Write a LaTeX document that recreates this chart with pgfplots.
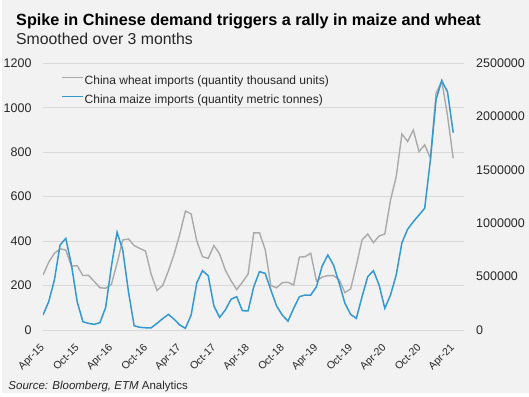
\documentclass[border=0pt]{standalone}
\usepackage{pgfplots}
\usepackage{pgfplotstable}
\pgfplotsset{compat=1.18}
\usepackage{fontspec}
\setmainfont{Liberation Sans}
\definecolor{bg}{RGB}{242,242,242}
\definecolor{gridc}{RGB}{217,217,217}
\definecolor{wheatc}{RGB}{170,170,170}
\definecolor{maizec}{RGB}{52,152,209}
\definecolor{txt}{RGB}{38,38,38}

\pgfplotstableread{
m wheat maize
0 247 140000
1 305 265000
2 345 469000
3 365 797000
4 360 859000
5 287 609000
6 290 265000
7 245 78000
8 246 62000
9 218 53000
10 190 69000
11 188 212000
12 205 594000
13 300 916000
14 405 750000
15 410 359000
16 380 40000
17 367 25000
18 355 21000
19 250 21000
20 178 62000
21 200 106000
22 265 146000
23 340 102000
24 430 47000
25 535 16000
26 522 140000
27 400 443000
28 330 556000
29 322 509000
30 380 225000
31 342 119000
32 270 187000
33 222 288000
34 182 312000
35 215 181000
36 252 179000
37 437 406000
38 437 547000
39 362 531000
40 200 375000
41 190 225000
42 213 140000
43 215 83000
44 202 203000
45 328 312000
46 330 328000
47 345 328000
48 220 406000
49 238 600000
50 245 703000
51 245 609000
52 225 437000
53 168 250000
54 185 146000
55 290 109000
56 405 312000
57 432 500000
58 393 556000
59 423 422000
60 432 203000
61 585 328000
62 690 516000
63 882 818000
64 848 944000
65 900 1015000
66 803 1078000
67 833 1141000
68 773 1594000
69 1065 2163000
70 1122 2337000
71 965 2233000
72 773 1850000
}\data

\begin{document}
\begin{tikzpicture}[x=1bp,y=1bp]
\useasboundingbox (0,0) rectangle (529,396);
\fill[white] (0,0) rectangle (529,396);
\fill[bg] (2,3) rectangle (529,396);
\node[anchor=base west, inner sep=0pt, text=black, font=\fontsize{16.2bp}{18bp}\selectfont\bfseries] at (16,371) {Spike in Chinese demand triggers a rally in maize and wheat};
\node[anchor=base west, inner sep=0pt, text=txt, font=\fontsize{15.8bp}{18bp}\selectfont] at (16,352) {Smoothed over 3 months};
\node[anchor=base west, inner sep=0pt, text=txt, font=\fontsize{11.5bp}{13bp}\selectfont] at (8.3,6.7) {\itshape Source: Bloomberg, ETM\upshape{} Analytics};

\begin{axis}[
  at={(43bp,66bp)}, anchor=south west,
  scale only axis, width=421bp, height=266.7bp,
  xmin=0, xmax=73.9, ymin=0, ymax=1200,
  axis line style={draw=none},
  major tick length=0pt,
  ytick={0,200,...,1200},
  ymajorgrids, grid style={gridc, line width=1bp},
  xtick={0,6,...,72},
  xticklabels={Apr-15,Oct-15,Apr-16,Oct-16,Apr-17,Oct-17,Apr-18,Oct-18,Apr-19,Oct-19,Apr-20,Oct-20,Apr-21},
  xticklabel style={yshift=-16bp, xshift=0bp, rotate=45, anchor=east, inner sep=0pt, font=\fontsize{10.5bp}{12bp}\selectfont, text=txt},
  yticklabel style={anchor=east, inner sep=0pt, xshift=-11.3bp, font=\fontsize{12.5bp}{14bp}\selectfont, text=txt},
  /pgf/number format/assume math mode=true,
  /pgf/number format/1000 sep={},
]
\addplot[wheatc, line width=1.4bp] table[x=m, y=wheat]{\data};
\end{axis}

\begin{axis}[
  at={(43bp,66bp)}, anchor=south west,
  scale only axis, width=421bp, height=266.7bp,
  xmin=0, xmax=73.9, ymin=0, ymax=2500000,
  axis line style={draw=none},
  major tick length=0pt,
  xtick=\empty,
  yticklabel pos=right,
  ytick={0,500000,...,2500000},
  scaled y ticks=false,
  yticklabel style={anchor=west, inner sep=0pt, xshift=12bp, font=\fontsize{12.5bp}{14bp}\selectfont, text=txt},
  /pgf/number format/assume math mode=true,
  /pgf/number format/fixed,
  /pgf/number format/1000 sep={},
  legend style={draw=none, fill=none, at={(axis description cs:0.043,0.956)}, anchor=north west,
    font=\fontsize{12bp}{14bp}\selectfont, text=txt, row sep=6.7bp, column sep=0pt, inner sep=0pt,
    nodes={inner sep=1bp}},
  legend cell align=left,
  legend image code/.code={\draw[#1, line width=1.4bp] (0bp,4bp) -- (21bp,4bp);},
]
\addlegendimage{wheatc}
\addlegendentry{China wheat imports (quantity thousand units)}
\addplot[maizec, line width=1.5bp] table[x=m, y=maize]{\data};
\addlegendentry{China maize imports (quantity metric tonnes)}
\end{axis}
\end{tikzpicture}
\end{document}
